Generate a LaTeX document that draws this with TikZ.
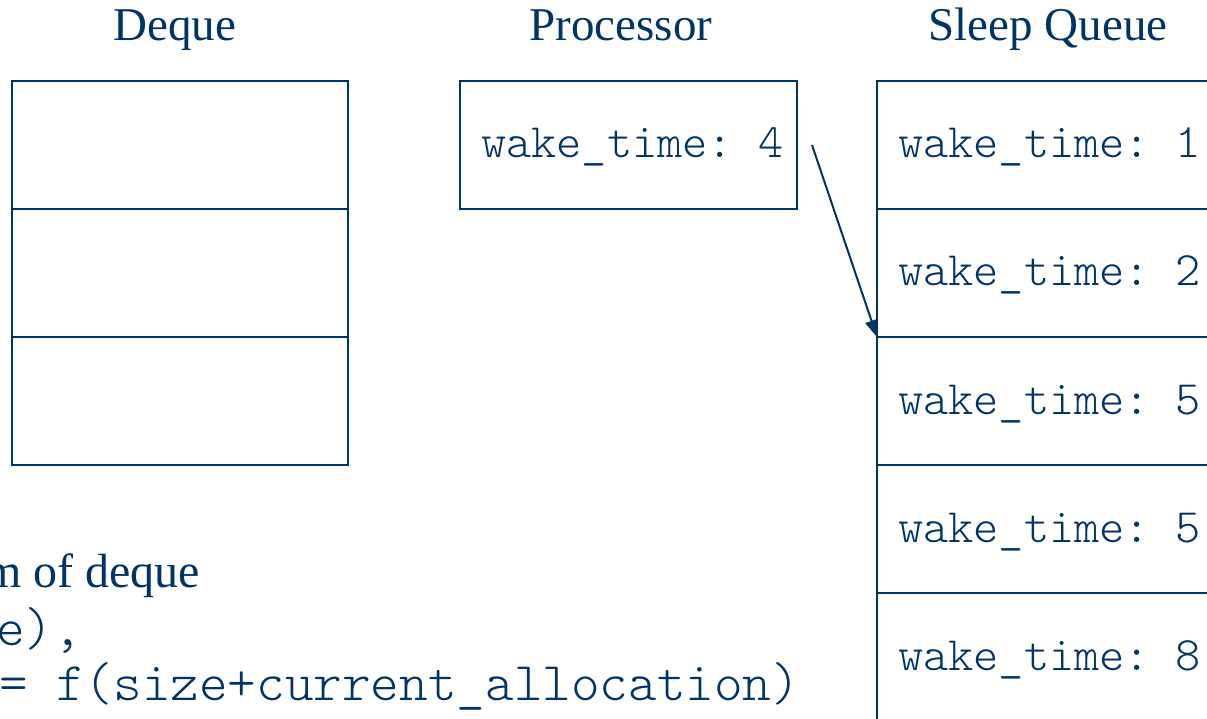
\documentclass[tikz,border=0pt]{standalone}
\usepackage{fontspec}
\setmainfont{Liberation Serif}
\setmonofont{lmmonolt10-regular}[Extension=.otf]
\usetikzlibrary{calc,arrows.meta}
\definecolor{ink}{RGB}{0,51,102}

\begin{document}
\begin{tikzpicture}[x=1pt,y=-1pt,line width=2pt,color=ink,
  cell/.style={draw=ink,minimum width=336pt,minimum height=128pt,
    inner sep=0pt,outer sep=0pt,anchor=north west},
  heading/.style={anchor=base,inner sep=0pt,text=ink,
    font=\fontsize{47}{56}\selectfont},
  entry/.style={anchor=base west,inner sep=0pt,text=ink,
    font=\ttfamily\fontsize{48}{56}\selectfont},
  body/.style={inner sep=0pt,text=ink,font=\fontsize{48}{56}\selectfont},
  bodycode/.style={inner sep=0pt,text=ink,font=\ttfamily\fontsize{54.5}{60}\selectfont},
  link/.style={draw=ink,line width=2pt,-{Triangle[length=17pt,width=13pt]}}]

\useasboundingbox (0,0) rectangle (1207,719);
\clip (0,0) rectangle (1207,719);

% column headings
\node[heading] (hdeque) at (175,41) {Deque};
\node[heading] (hproc)  at (621,41) {Processor};
\node[heading] (hsleep) at (1048,41) {Sleep Queue};

% deque: three empty slots
\node[cell] (d1) at (12,81)  {};
\node[cell] (d2) at (12,209) {};
\node[cell] (d3) at (12,337) {};

% processor
\node[cell,minimum width=337pt] (proc) at (460,81) {};
\node[entry] (ptext) at ($(proc.west)+(20,13)$) {wake\_time: 4};

% sleep queue, sorted by wake time
\node[cell,minimum width=337pt] (q1) at (877,81)  {};
\node[cell,minimum width=337pt] (q2) at (877,209) {};
\node[cell,minimum width=337pt] (q3) at (877,337) {};
\node[cell,minimum width=337pt] (q4) at (877,465) {};
\node[cell,minimum width=337pt] (q5) at (877,593) {};
\node[entry] (qt1) at ($(q1.west)+(20,13)$) {wake\_time: 1};
\node[entry] (qt2) at ($(q2.west)+(20,13)$) {wake\_time: 2};
\node[entry] (qt3) at ($(q3.west)+(20,13)$) {wake\_time: 5};
\node[entry] (qt4) at ($(q4.west)+(20,13)$) {wake\_time: 5};
\node[entry] (qt5) at ($(q5.west)+(20,13)$) {wake\_time: 8};

% insertion point of the processor's task
\coordinate (from) at ($(proc.east)+(15,0)$);
\draw[link] (from) -- (q2.south west);

% notes below the deque
\node[body,anchor=base east] (n1) at (201,587) {m of deque};
\node[bodycode,anchor=base west] (n2) at (-5,645) {e),};
\node[bodycode,anchor=base west] (n3) at (-2,700) {= f(size+current\_allocation)};
\end{tikzpicture}
\end{document}
